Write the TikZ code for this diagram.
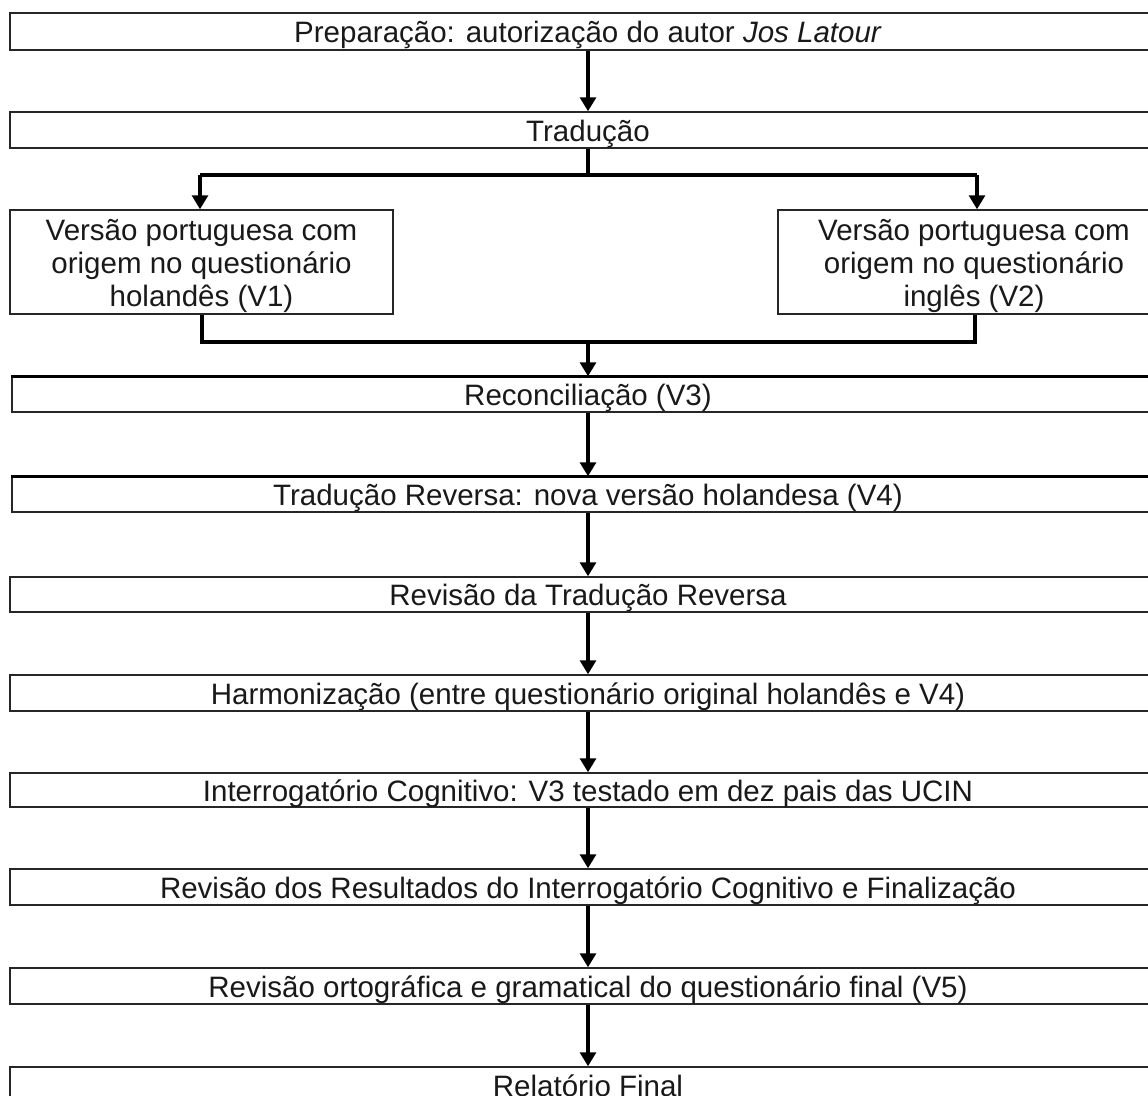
\documentclass[tikz,border=0pt]{standalone}
\usepackage{fontspec}
\setmainfont{Liberation Sans}
\usetikzlibrary{arrows.meta}
\begin{document}
\begin{tikzpicture}[x=1pt,y=-1pt,
  txt/.style={inner sep=0pt, align=center, font=\fontsize{29.5}{33}\selectfont, text=black!90},
  box/.style={draw=black!85, line width=1.5pt, rectangle, inner sep=0pt, align=center,
    font=\fontsize{29.5}{33}\selectfont, text=black!90},
  wide/.style={box, minimum width=1156pt, minimum height=36pt, text height=25pt, text depth=3pt},
  side/.style={box, minimum height=104pt},
  conn/.style={line width=3.2pt, black},
  arr/.style={conn, -{Triangle[width=16pt,length=14pt]}}]
\useasboundingbox (0,0) rectangle (1148,1095);
\clip (0,0) rectangle (1148,1095);
\fill[white] (0,0) rectangle (1148,1095);
\node[wide, minimum height=37pt] (p) at (588,31.5) {Preparação: autorização do autor \textit{Jos Latour}};
\node[wide] (t) at (588,130) {Tradução};
\node[side, minimum width=383pt] (v1) at (201.5,262) {};
\node[txt] (v1t) at ([yshift=-4pt]v1.center) {Versão portuguesa com\\origem no questionário\\holandês (V1)};
\node[side, minimum width=392pt] (v2) at (974,262) {};
\node[txt] (v2t) at ([yshift=-4pt]v2.center) {Versão portuguesa com\\origem no questionário\\inglês (V2)};
\node[wide, minimum height=35pt, minimum width=1152pt] (r) at (588,394.5) {Reconciliação (V3)};
\node[wide, minimum height=35pt, minimum width=1152pt] (tr) at (588,494.5) {Tradução Reversa: nova versão holandesa (V4)};
\node[wide, minimum height=35pt] (rtr) at (588,594.5) {Revisão da Tradução Reversa};
\node[wide] (h) at (588,693) {Harmonização (entre questionário original holandês e V4)};
\node[wide, minimum height=34pt] (ic) at (588,790) {Interrogatório Cognitivo: V3 testado em dez pais das UCIN};
\node[wide] (rr) at (588,887) {Revisão dos Resultados do Interrogatório Cognitivo e Finalização};
\node[wide] (ro) at (588,986) {Revisão ortográfica e gramatical do questionário final (V5)};
\node[wide] (rf) at (588,1085) {Relatório Final};
% thicker top edges
\draw[line width=3pt] (r.north west) -- (r.north east);
\draw[line width=3pt] (tr.north west) -- (tr.north east);
% coordinates for branches
\coordinate (bs) at (588,175);
\coordinate (bl) at (200,175);
\coordinate (br) at (977,175);
\coordinate (jl) at (202,342);
\coordinate (jr) at (975,342);
\coordinate (jm) at (588,342);
\draw[arr] (p.south) -- (t.north);
\draw[conn] (t.south) -- (bs);
\draw[conn] (bl) -- (br);
\draw[arr] (bl) -- (bl |- v1.north);
\draw[arr] (br) -- (br |- v2.north);
\draw[conn] (jl |- v1.south) -- (jl) -- (jr) -- (jr |- v2.south);
\draw[arr] (jm) -- (r.north);
\draw[arr] (r.south) -- (tr.north);
\draw[arr] (tr.south) -- (rtr.north);
\draw[arr] (rtr.south) -- (h.north);
\draw[arr] (h.south) -- (ic.north);
\draw[arr] (ic.south) -- (rr.north);
\draw[arr] (rr.south) -- (ro.north);
\draw[arr] (ro.south) -- (rf.north);
\end{tikzpicture}
\end{document}
